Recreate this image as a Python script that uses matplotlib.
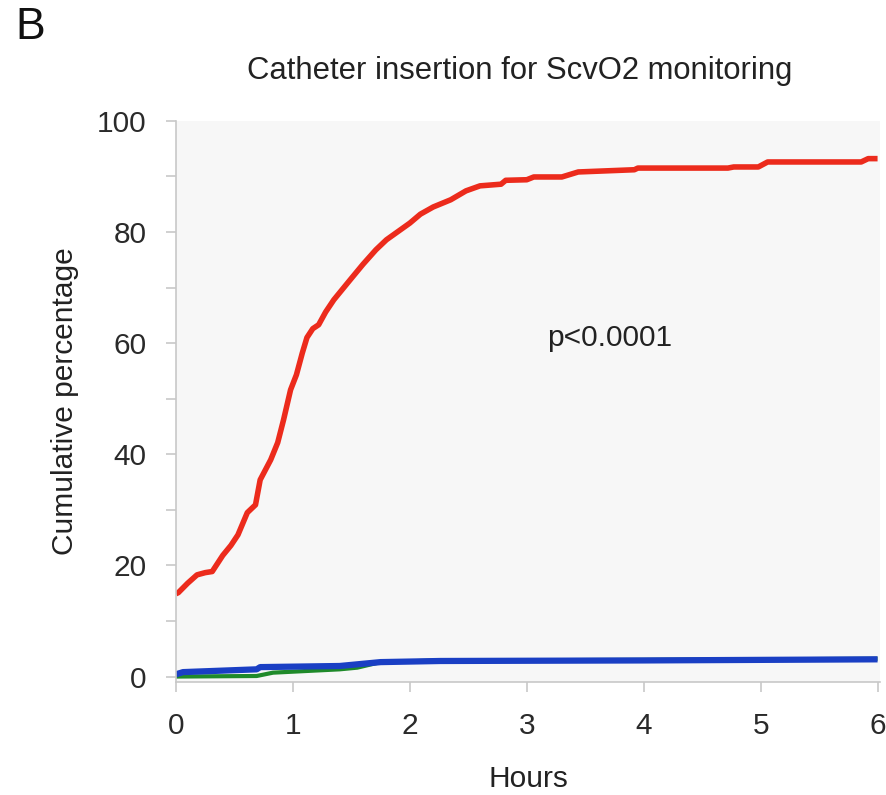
import numpy as np
import matplotlib.pyplot as plt

plt.rcParams['font.family'] = ['Liberation Sans', 'DejaVu Sans']

# Cumulative percentage of patients with a catheter in place, by hours
red_hours = [0.0, 0.02, 0.10, 0.18, 0.25, 0.31, 0.40, 0.47, 0.53, 0.61, 0.68, 0.72,
             0.81, 0.87, 0.92, 0.98, 1.03, 1.08, 1.12, 1.17, 1.22, 1.28, 1.35, 1.42,
             1.49, 1.60, 1.71, 1.80, 1.92, 2.00, 2.09, 2.20, 2.35, 2.48, 2.60, 2.78,
             2.82, 3.00, 3.06, 3.30, 3.44, 3.92, 3.95, 4.72, 4.77, 4.98, 5.06, 5.86,
             5.92, 6.0]
red_pct = [14.9, 15.1, 16.8, 18.3, 18.7, 18.9, 21.8, 23.6, 25.5, 29.5, 30.9, 35.4,
           39.0, 42.1, 46.2, 51.6, 54.3, 58.2, 61.0, 62.6, 63.3, 65.6, 67.8, 69.6,
           71.4, 74.2, 76.8, 78.6, 80.4, 81.6, 83.2, 84.5, 85.8, 87.4, 88.3, 88.6,
           89.3, 89.4, 89.9, 89.9, 90.8, 91.2, 91.5, 91.5, 91.7, 91.7, 92.6, 92.6,
           93.2, 93.2]

blue_hours = [0.0, 0.06, 0.69, 0.72, 1.40, 1.75, 2.26, 4.00, 6.0]
blue_pct = [0.4, 0.8, 1.3, 1.7, 1.9, 2.6, 2.8, 2.9, 3.1]

green_hours = [0.0, 0.69, 0.83, 1.40, 1.55, 1.75, 2.26, 4.00, 6.0]
green_pct = [0.0, 0.1, 0.7, 1.3, 1.6, 2.6, 2.9, 3.0, 3.2]

x_ticks = [0, 1, 2, 3, 4, 5, 6]
y_ticks = [0, 20, 40, 60, 80, 100]

fig = plt.figure(figsize=(8.87, 7.95), dpi=100)
ax = fig.add_axes([0.1984, 0.142, 0.7936, 0.706])
ax.set_facecolor('#f7f7f7')

ax.plot(green_hours, green_pct, color='#1f8a2a', lw=3, solid_capstyle='butt')
ax.plot(blue_hours, blue_pct, color='#1a3fc4', lw=4.5, solid_capstyle='butt')
ax.plot(red_hours, red_pct, color='#ec2b1c', lw=4, solid_capstyle='butt',
        solid_joinstyle='round')

ax.set_xlim(0, 6.02)
ax.set_ylim(-1, 100)
ax.set_xticks(x_ticks)
ax.set_yticks(y_ticks)
ax.set_yticks(np.arange(0, 101, 10), minor=True)

for side in ['top', 'right']:
    ax.spines[side].set_visible(False)
for side in ['left', 'bottom']:
    ax.spines[side].set_color('#c8c8c8')
    ax.spines[side].set_linewidth(1.2)

ax.tick_params(axis='both', which='both', direction='out', colors='#c8c8c8',
               labelcolor='#2a2a2a', labelsize=21.5, width=1.2)
ax.tick_params(axis='y', which='both', length=7, pad=14)
ax.tick_params(axis='x', which='both', length=7, pad=14.5)

ax.set_xlabel('Hours', fontsize=21.5, color='#222222', labelpad=18)
ax.set_ylabel('Cumulative percentage', fontsize=21.5, color='#222222', labelpad=13)
ax.set_title('Catheter insertion for ScvO2 monitoring', fontsize=22.3,
             color='#222222', pad=30, x=0.488)

ax.text(3.17, 61.0, 'p<0.0001', fontsize=21.5, color='#222222',
        ha='left', va='center')

fig.text(0.034, 0.966, 'B', fontsize=32, color='#111111', ha='center', va='center')

fig.savefig('out.png', dpi=100)
